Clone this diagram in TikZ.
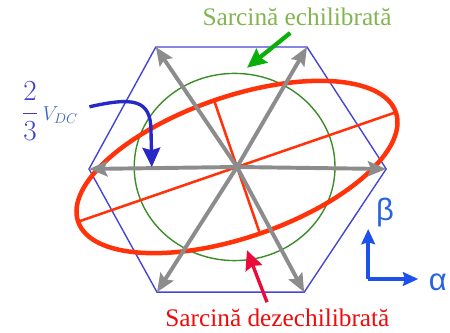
\documentclass[tikz,border=0pt]{standalone}
\usepackage{fontspec}
\setmainfont{Liberation Serif}
\newfontfamily\greekfont{Liberation Sans}
\usetikzlibrary{arrows.meta}
\definecolor{hexblue}{RGB}{70,70,210}
\definecolor{circgreen}{RGB}{60,140,40}
\definecolor{ellred}{RGB}{255,50,10}
\definecolor{vecgray}{RGB}{140,140,140}
\definecolor{fracblue}{RGB}{60,60,210}
\definecolor{vdcblue}{RGB}{70,110,190}
\definecolor{pointblue}{RGB}{40,40,200}
\definecolor{pointgreen}{RGB}{10,175,10}
\definecolor{txtgreen}{RGB}{130,180,80}
\definecolor{txtred}{RGB}{240,10,10}
\definecolor{pointred}{RGB}{235,10,60}
\definecolor{axisblue}{RGB}{30,80,235}
\definecolor{greekblue}{RGB}{40,100,220}
\begin{document}
\begin{tikzpicture}[
  vec/.style={draw=vecgray,line width=2.8pt,-{Stealth[length=4.6mm,width=3.8mm,inset=0.8mm]}},
  pointer/.style={line width=2.4pt,-{Stealth[length=4.8mm,width=4.4mm,inset=0.6mm]}},
  axis/.style={draw=axisblue,line width=2.8pt,-{Stealth[length=3.8mm,width=3.4mm,inset=0.5mm]}},
  label/.style={font=\fontsize{18}{20}\selectfont,inner sep=0pt}
]
\useasboundingbox (-5.925,-4.15) rectangle (5.325,4.175);
% hexagon corners
\coordinate (h1) at (3.73,-0.05);
\coordinate (h2) at (1.75,3.0);
\coordinate (h3) at (-2.03,3.0);
\coordinate (h4) at (-3.7,-0.05);
\coordinate (h5) at (-2.0,-3.13);
\coordinate (h6) at (1.68,-3.13);
\coordinate (O) at (0,0);
\draw[hexblue,line width=1pt] (h1) -- (h2) -- (h3) -- (h4) -- (h5) -- (h6) -- cycle;
\draw[circgreen,line width=1pt] (-0.06,0) ellipse (2.51 and 2.34);
% unbalanced load
\draw[ellred,line width=3.2pt,rotate=19] (0,0) ellipse (4.2 and 1.76);
\draw[ellred,line width=1.8pt,rotate=19] (-4.2,0) -- (4.2,0);
\draw[ellred,line width=1.8pt,rotate=19] (0,1.76) -- (0,-1.76);
% voltage vectors
\draw[vec] (O) -- (h1);
\draw[vec] (O) -- (h2);
\draw[vec] (O) -- (h3);
\draw[vec] (O) -- (h4);
\draw[vec] (O) -- (h5);
\draw[vec] (O) -- (h6);
% labels
\node[label,anchor=east] (vdc) at (-3.97,1.4)
  {{\fontsize{21}{24}\selectfont$\color{fracblue}\displaystyle\frac{2}{3}$}\,{\fontsize{14}{16}\selectfont$\color{vdcblue}V_{DC}$}};
\coordinate (vtip) at (-2.13,0);
\draw[pointer,pointblue] ([xshift=8pt,yshift=3pt]vdc.east) .. controls (-2.6,1.75) and (-2.15,1.7) .. (-2.15,0.9) -- (vtip);
\node[label,text=txtgreen] (bal) at (1.5,3.75) {Sarcină echilibrată};
\coordinate (gtip) at (0.25,2.48);
\draw[pointer,pointgreen,line width=3pt] (1.33,3.35) -- (gtip);
\node[label,text=txtred] (unbal) at (1.01,-3.78) {Sarcină dezechilibrată};
\coordinate (rtip) at (0.25,-2.08);
\draw[pointer,pointred] (0.75,-3.38) -- (rtip);
% alpha-beta frame
\coordinate (ab) at (3.28,-2.8);
\node[font=\greekfont\fontsize{22}{24}\selectfont,text=greekblue,inner sep=0pt] (beta) at (3.7,-1.13) {β};
\node[font=\greekfont\fontsize{22}{24}\selectfont,text=greekblue,inner sep=0pt] (alpha) at (5.02,-2.88) {α};
\draw[axis] (ab) -- (3.28,-1.55);
\draw[axis] (ab) -- (4.53,-2.8);
\end{tikzpicture}
\end{document}
